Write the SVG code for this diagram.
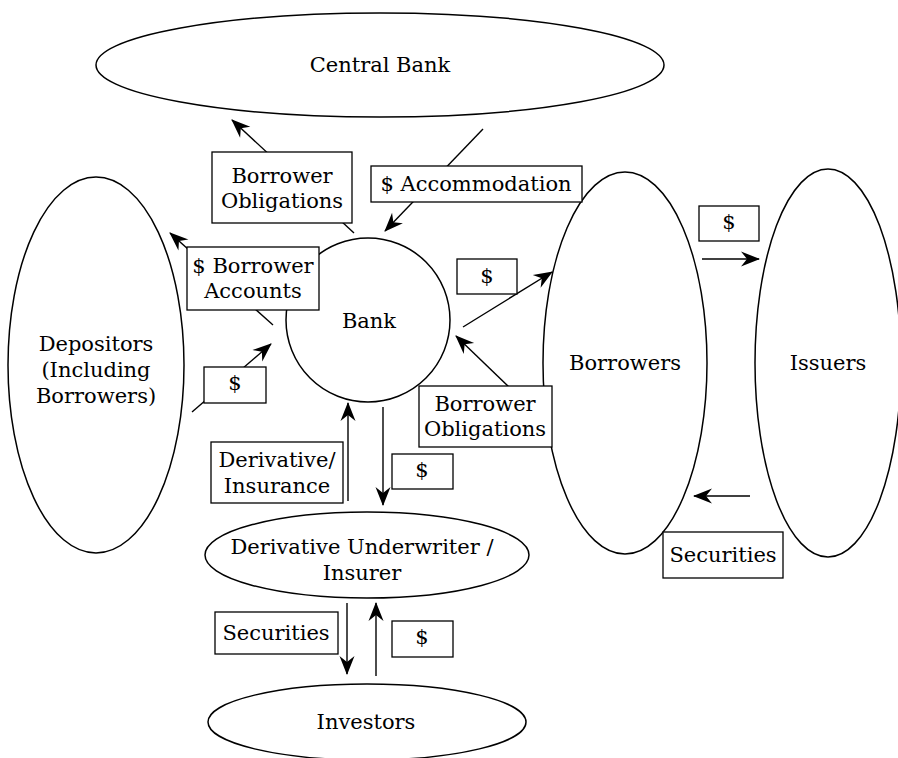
<svg xmlns="http://www.w3.org/2000/svg" width="898" height="758" viewBox="0 0 898 758">
<style>
.node{fill:#fff;stroke:#000;stroke-width:1.5}
.lbl{fill:#fff;stroke:#000;stroke-width:1.3}
.conn{fill:none;stroke:#000;stroke-width:1.4;marker-end:url(#ah)}
text{font-family:"DejaVu Serif","Liberation Serif",serif;font-size:21px;fill:#000;text-anchor:middle}
</style>
<defs>
<marker id="ah" viewBox="-20 -8 20 16" refX="-1" refY="0" markerWidth="20" markerHeight="16" markerUnits="userSpaceOnUse" orient="auto">
<path d="M0,0 L-19,-7.5 L-13,0 L-19,7.5 Z" fill="#000"/>
</marker>
</defs>
<rect width="898" height="758" fill="#fff"/>
<g id="central-bank"><ellipse class="node" cx="380" cy="65" rx="284" ry="52"/><text x="380" y="72">Central Bank</text></g>
<g id="depositors"><ellipse class="node" cx="96" cy="365" rx="88" ry="188"/><text x="96" y="351">Depositors</text><text x="96" y="377">(Including</text><text x="96" y="403">Borrowers)</text></g>
<g id="bank"><circle class="node" cx="368" cy="320" r="82"/><text x="369" y="328">Bank</text></g>
<g id="borrowers"><ellipse class="node" cx="625" cy="363" rx="82" ry="191"/><text x="625" y="370">Borrowers</text></g>
<g id="issuers"><ellipse class="node" cx="828" cy="363" rx="73" ry="194"/><text x="828" y="370">Issuers</text></g>
<g id="underwriter"><ellipse class="node" cx="367" cy="555" rx="162" ry="43"/><text x="362" y="554">Derivative Underwriter /</text><text x="362" y="580">Insurer</text></g>
<g id="investors"><ellipse class="node" cx="367" cy="722" rx="159" ry="38"/><text x="366" y="729">Investors</text></g>
<g id="connectors">
<line class="conn" x1="354" y1="233" x2="232" y2="120"/>
<line class="conn" x1="483" y1="129" x2="385" y2="231"/>
<line class="conn" x1="273" y1="325" x2="170" y2="233"/>
<line class="conn" x1="192" y1="412" x2="271" y2="344"/>
<line class="conn" x1="463" y1="327" x2="552" y2="272"/>
<line class="conn" x1="512" y1="390" x2="456" y2="336"/>
<line class="conn" x1="702" y1="259" x2="759" y2="259"/>
<line class="conn" x1="750" y1="496" x2="694" y2="496"/>
<line class="conn" x1="348" y1="501" x2="348" y2="403"/>
<line class="conn" x1="383" y1="407" x2="383" y2="505"/>
<line class="conn" x1="347" y1="603" x2="347" y2="674"/>
<line class="conn" x1="376" y1="676" x2="376" y2="603"/>
</g>
<g id="labels">
<g id="lbl-borrower-obligations-cb"><rect class="lbl" x="212" y="152" width="140" height="71"/><text x="282" y="183">Borrower</text><text x="282" y="208">Obligations</text></g>
<g id="lbl-accommodation"><rect class="lbl" x="371" y="166" width="211" height="36"/><text x="476" y="191">$ Accommodation</text></g>
<g id="lbl-borrower-accounts"><rect class="lbl" x="187" y="247" width="132" height="63"/><text x="253" y="273">$ Borrower</text><text x="253" y="298">Accounts</text></g>
<g id="lbl-dep-dollar"><rect class="lbl" x="204" y="367" width="62" height="36"/><text x="235" y="390">$</text></g>
<g id="lbl-loan-dollar"><rect class="lbl" x="457" y="259" width="60" height="35"/><text x="487" y="283">$</text></g>
<g id="lbl-issuer-dollar"><rect class="lbl" x="699" y="206" width="60" height="35"/><text x="729" y="229">$</text></g>
<g id="lbl-borrower-obligations"><rect class="lbl" x="419" y="386" width="133" height="61"/><text x="485" y="411">Borrower</text><text x="485" y="436">Obligations</text></g>
<g id="lbl-derivative"><rect class="lbl" x="211" y="442" width="132" height="61"/><text x="277" y="467">Derivative/</text><text x="277" y="493">Insurance</text></g>
<g id="lbl-premium-dollar"><rect class="lbl" x="392" y="454" width="61" height="35"/><text x="422" y="477">$</text></g>
<g id="lbl-securities-right"><rect class="lbl" x="663" y="532" width="120" height="46"/><text x="723" y="562">Securities</text></g>
<g id="lbl-securities-bottom"><rect class="lbl" x="215" y="612" width="123" height="42"/><text x="276" y="640">Securities</text></g>
<g id="lbl-investor-dollar"><rect class="lbl" x="392" y="621" width="61" height="36"/><text x="422" y="644">$</text></g>
</g>
</svg>
